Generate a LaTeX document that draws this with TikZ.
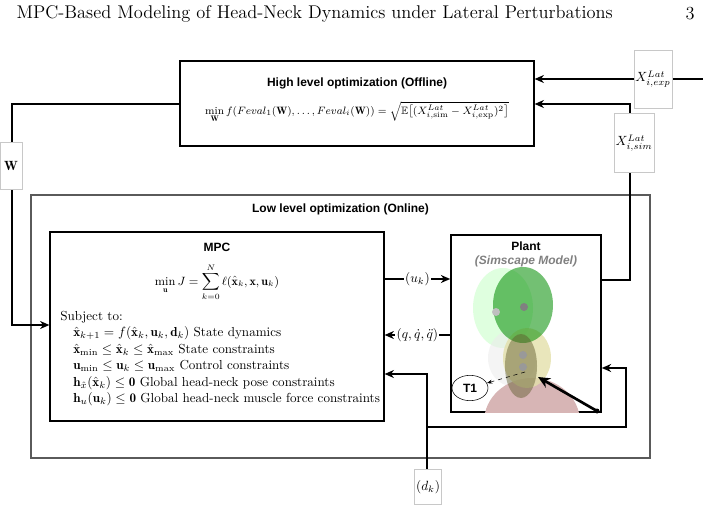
\documentclass[tikz,border=0pt]{standalone}
\usepackage{amsmath,amssymb,bm}
\usepackage{fontspec}
\setsansfont{Liberation Sans}
\usetikzlibrary{positioning,arrows.meta,calc,shapes.geometric}
\definecolor{labgray}{RGB}{200,200,200}
\definecolor{lowgray}{RGB}{90,90,90}

\begin{document}
\begin{tikzpicture}[x=0.75pt,y=-0.75pt,
  blk/.style={draw, line width=0.9pt, inner sep=0pt},
  lab/.style={draw=labgray, fill=white, inner sep=1pt},
  arr/.style={line width=1.1pt, -{Stealth[length=7pt,width=6pt]}},
  wire/.style={line width=1.1pt},
  ttl/.style={font=\sffamily\bfseries\small}]
  \useasboundingbox (0,0) rectangle (703,513);
  % page head
  \node[anchor=west, font=\fontsize{13.8}{16}\selectfont] (head) at (12,14) {MPC-Based Modeling of Head-Neck Dynamics under Lateral Perturbations};
  \node[font=\fontsize{13.8}{16}\selectfont] (page) at (690,14) {3};

  % boxes
  \node[blk, minimum width=265.5pt, minimum height=63.75pt] (high) at (357,103.5) {};
  \node[ttl] (hightitle) at (357,83) {High level optimization (Offline)};
  \node[font=\footnotesize] (hform) at (357,112) {$\displaystyle\min_{\mathbf{W}} f(Feval_1(\mathbf{W}),\ldots,Feval_i(\mathbf{W}))=\sqrt{\mathbb{E}\big[(X^{Lat}_{i,\mathrm{sim}}-X^{Lat}_{i,\mathrm{exp}})^2\big]}$};

  \node[draw=lowgray, line width=0.8pt, minimum width=464.25pt, minimum height=197.25pt] (low) at (340.5,326.5) {};
  \node[ttl] (lowtitle) at (340.5,209) {Low level optimization (Online)};

  \node[blk, minimum width=250.5pt, minimum height=141.75pt] (mpc) at (217,326.5) {};
  \node[ttl] (mpctitle) at (217,247) {MPC};
  \node[font=\small] (cost) at (217,282) {$\displaystyle\min_{\mathbf{u}} J=\sum_{k=0}^{N}\ell(\hat{\mathbf{x}}_k,\mathbf{x},\mathbf{u}_k)$};
  \node[anchor=north west, font=\fontsize{9.8}{12.3}\selectfont, align=left, inner sep=0pt] (cons) at (60,311) {Subject to:\\
    \hspace{1em}$\hat{\mathbf{x}}_{k+1}=f(\hat{\mathbf{x}}_k,\mathbf{u}_k,\mathbf{d}_k)$ State dynamics\\
    \hspace{1em}$\hat{\mathbf{x}}_{\min}\le\hat{\mathbf{x}}_k\le\hat{\mathbf{x}}_{\max}$ State constraints\\
    \hspace{1em}$\mathbf{u}_{\min}\le\mathbf{u}_k\le\mathbf{u}_{\max}$ Control constraints\\
    \hspace{1em}$\mathbf{h}_{\hat{x}}(\hat{\mathbf{x}}_k)\le\mathbf{0}$ Global head-neck pose constraints\\
    \hspace{1em}$\mathbf{h}_{u}(\mathbf{u}_k)\le\mathbf{0}$ Global head-neck muscle force constraints};

  \node[blk, line width=1.2pt, minimum width=112.5pt, minimum height=132.75pt] (plant) at (526,323.5) {};
  % model picture
  \begin{scope}
    \clip (451,235) rectangle (601,412);
    \fill[green!25!white, opacity=0.5] (503,308) ellipse (30 and 40);
    \fill[gray!15, opacity=0.6] (512,358) ellipse (24 and 28);
    \fill[red!30!gray!45!white] (532,422) ellipse (48 and 44);
    \fill[olive!25!white, opacity=0.8] (527,358) ellipse (24 and 30);
    \fill[green!55!black, opacity=0.55] (523,305) ellipse (30 and 38);
    \fill[black!45!olive, opacity=0.45] (521,366) ellipse (16 and 32);
    \foreach \cy in {355,367} \fill[black!40] (523,\cy) circle (4);
    \fill[black!50] (524,307) circle (4);
    \fill[black!25] (496,312) circle (4);
  \end{scope}
  \node[ttl] (planttitle) at (526,246) {Plant};
  \node[font=\sffamily\bfseries\itshape\small, text=gray] (simscape) at (526,261) {(Simscape Model)};
  \node[draw, ellipse, fill=white, font=\sffamily\bfseries\small, inner sep=1pt, minimum width=27pt, minimum height=19pt] (t1) at (470,388) {T1};
  \coordinate (perb) at (597,411);
  \coordinate (neck) at (538,377);
  \draw[dashed, -{Stealth[length=4pt]}] (525,372) -- (t1);
  \fill (perb) circle (2.5);
  \draw[line width=2pt, -{Stealth[length=9pt,width=8pt]}] (perb) -- (neck);

  % labels
  \node[lab, minimum width=25.5pt, minimum height=43.5pt] (xexp) at (653,79) {};
  \node[lab, minimum width=22.5pt, minimum height=44.25pt] (xsim) at (634,143) {};
  \node[lab, minimum width=16.5pt, minimum height=35.25pt] (wlab) at (11,166) {};
  \node[lab, minimum width=17.25pt, minimum height=26.25pt] (dlab) at (428,487) {};

  % connectors
  \coordinate (expin) at (703,79);
  \coordinate (simc) at (630,104);
  \coordinate (wc) at (12,104);
  \coordinate (dk) at (427,374);
  \coordinate (dj) at (427,427);
  \coordinate (dr) at (626,427);
  \draw[arr] (expin) -- (high.east |- expin);
  \draw[arr] (plant.east |- 0,280) -| (simc) -- (high.east |- simc);
  \draw[arr] (high.west |- wc) -- (wc) |- (mpc.west |- 0,325);
  \draw[arr] (mpc.east |- 0,279) -- node[fill=white, inner sep=1pt] (uk) {$(u_k)$} (plant.west |- 0,279);
  \draw[arr] (plant.west |- 0,335) -- node[fill=white, inner sep=1pt] (q) {$(q,\dot q,\ddot q)$} (mpc.east |- 0,335);
  \draw[wire] (dlab.north -| dk) -- (dj);
  \draw[arr] (dj) -- (dk) -- (mpc.east |- dk);
  \draw[arr] (dj) -- (dr) |- (plant.east |- 0,368);

  % label texts drawn over wires
  \node[lab, minimum width=25.5pt, minimum height=43.5pt] at (xexp) {$X^{Lat}_{i,exp}$};
  \node[lab, minimum width=22.5pt, minimum height=44.25pt] at (xsim) {$X^{Lat}_{i,sim}$};
  \node[lab, minimum width=16.5pt, minimum height=35.25pt] at (wlab) {$\mathbf{W}$};
  \node[lab, minimum width=17.25pt, minimum height=26.25pt] at (dlab) {$(d_k)$};
\end{tikzpicture}
\end{document}
